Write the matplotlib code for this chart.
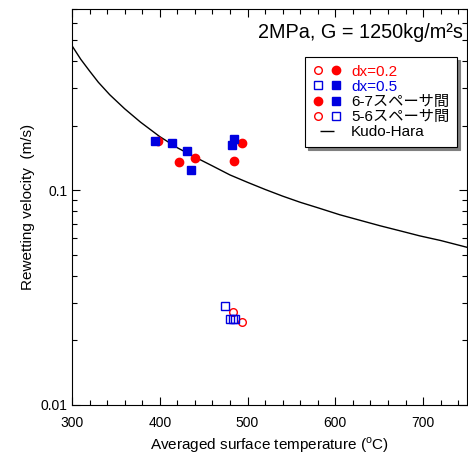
import matplotlib
matplotlib.use('Agg')
import matplotlib.pyplot as plt
from matplotlib.lines import Line2D
from matplotlib.legend_handler import HandlerTuple
from matplotlib.ticker import FixedLocator, NullFormatter, MultipleLocator

plt.rcParams['font.family'] = ['Liberation Sans', 'Noto Sans CJK JP']
plt.rcParams['mathtext.fontset'] = 'custom'
plt.rcParams['mathtext.rm'] = 'Liberation Sans'

# Data
# 6-7 spacer (filled markers)
t_dx02_67 = [398, 422, 440, 484, 494]
v_dx02_67 = [0.170, 0.135, 0.142, 0.137, 0.166]
t_dx05_67 = [395, 414, 431, 436, 482, 485]
v_dx05_67 = [0.170, 0.166, 0.152, 0.125, 0.162, 0.173]

# 5-6 spacer (open markers)
t_dx02_56 = [483, 494]
v_dx02_56 = [0.0271, 0.0244]
t_dx05_56 = [474, 480, 483, 486]
v_dx05_56 = [0.0290, 0.0251, 0.0251, 0.0251]

# Kudo-Hara correlation
t_kh = [300, 310, 320, 330, 343, 360, 378, 400, 420, 440, 460, 480, 500,
        520, 540, 560, 580, 605, 630, 651, 675, 696, 720, 750]
v_kh = [0.472, 0.408, 0.360, 0.319, 0.279, 0.240, 0.208, 0.178, 0.158, 0.143,
        0.130, 0.118, 0.109, 0.101, 0.094, 0.088, 0.083, 0.0770, 0.0722,
        0.0684, 0.0646, 0.0614, 0.0584, 0.0543]

red = '#ff0000'
blue = '#0000e0'

fig = plt.figure(figsize=(4.68, 4.57), dpi=100)
ax = fig.add_axes([72/468, 52/457, 395/468, 396/457])

ax.plot(t_kh, v_kh, '-', color='black', linewidth=1.0, zorder=2)

ax.plot(t_dx02_67, v_dx02_67, 'o', color=red, markersize=6, linestyle='none', zorder=3)
ax.plot(t_dx05_67, v_dx05_67, 's', color=blue, markersize=6, linestyle='none', zorder=4)
ax.plot(t_dx02_56, v_dx02_56, 'o', markerfacecolor='white', markeredgecolor=red,
        markersize=5.5, markeredgewidth=1, linestyle='none', zorder=3)
ax.plot(t_dx05_56, v_dx05_56, 's', markerfacecolor='none', markeredgecolor=blue,
        markersize=5.5, markeredgewidth=1, linestyle='none', zorder=4)

ax.set_yscale('log')
ax.set_xlim(300, 750)
ax.set_ylim(0.01, 0.7)
ax.xaxis.set_major_locator(FixedLocator([300, 400, 500, 600, 700]))
ax.xaxis.set_minor_locator(MultipleLocator(20))
ax.yaxis.set_major_locator(FixedLocator([0.01, 0.1]))
ax.set_yticklabels(['0.01', '0.1'])
ax.yaxis.set_minor_formatter(NullFormatter())
ax.tick_params(which='both', direction='in', top=True, right=True, labelsize=10)
ax.tick_params(which='major', length=6, width=0.8)
ax.tick_params(which='minor', length=3.5, width=0.8)
ax.tick_params(axis='x', pad=8)

ax.set_xlabel('Averaged surface temperature ($^{\\rm o}$C)', fontsize=11)
ax.set_ylabel('Rewetting velocity  (m/s)', fontsize=11)

ax.text(0.99, 0.94, '2MPa, G = 1250kg/m²s', transform=ax.transAxes,
        ha='right', va='center', fontsize=14.3)

# Legend
oc_r = Line2D([], [], marker='o', linestyle='none', markerfacecolor='white',
              markeredgecolor=red, markersize=5.5)
fc_r = Line2D([], [], marker='o', linestyle='none', color=red, markersize=6)
os_b = Line2D([], [], marker='s', linestyle='none', markerfacecolor='white',
              markeredgecolor=blue, markersize=5.5)
fs_b = Line2D([], [], marker='s', linestyle='none', color=blue, markersize=6)
kh = Line2D([], [], marker='_', linestyle='none', color='black', markersize=10)

handles = [(oc_r, fc_r), (os_b, fs_b), (fc_r, fs_b), (oc_r, os_b), kh]
labels = ['dx=0.2', 'dx=0.5', '6-7スペーサ間', '5-6スペーサ間', 'Kudo-Hara']
leg = ax.legend(handles, labels, handler_map={tuple: HandlerTuple(ndivide=None, pad=0.6)},
                loc='upper right', bbox_to_anchor=(0.975, 0.879), borderaxespad=0,
                fontsize=11, handlelength=1.8, handletextpad=0.7, labelspacing=0.08,
                borderpad=0.5, fancybox=False, edgecolor='black', framealpha=1,
                shadow={'color': '0.5', 'alpha': 1})
leg.get_frame().set_linewidth(0.8)
for txt, c in zip(leg.get_texts(), [red, blue, 'black', 'black', 'black']):
    txt.set_color(c)

fig.savefig('out.png', dpi=100)
